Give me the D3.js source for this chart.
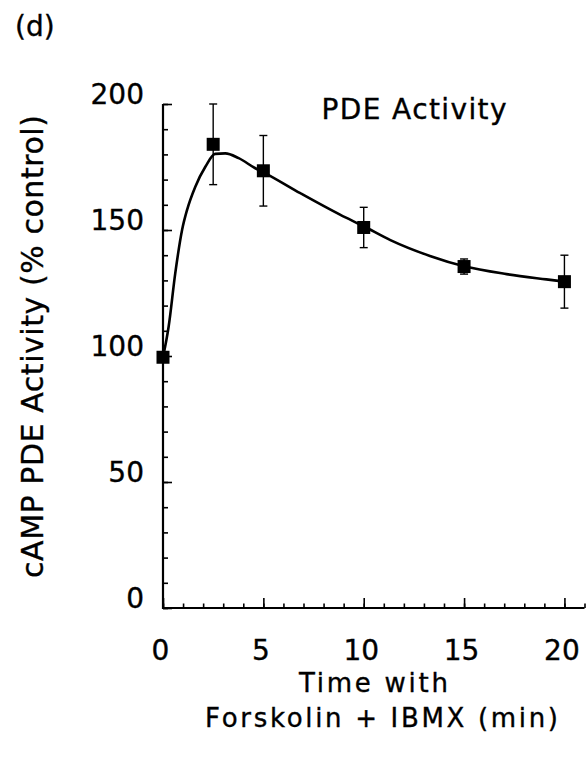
<!DOCTYPE html>
<html>
<head>
<meta charset="utf-8">
<script src="https://cdn.jsdelivr.net/npm/d3@7"></script>
<style>
  body { margin: 0; background: #fff; }
  text { font-family: "DejaVu Sans", sans-serif; fill: #000; stroke: #000; stroke-width: 0.35px; }
</style>
</head>
<body>
<div id="chart"></div>
<script>
// measured points (mean +/- error)
var times = [0, 2.5, 5, 10, 15, 20];
var means = [99.5, 184, 173.5, 151, 135.5, 129.5];
var errs = [0, 16, 14, 8, 3, 10.5];

// fitted curve
var curveX = [0, 0.28, 0.61, 0.95, 1.2, 1.61, 2.11, 2.6, 3.1, 3.77, 4.6, 5.1, 6.84, 8.84, 10, 11.33, 13.3, 15, 17.12, 19.1, 20];
var curveY = [99.5, 111.6, 132.8, 150, 158, 167.2, 175.1, 180.2, 180.4, 178.5, 174.5, 172.5, 164.6, 156, 151.5, 146, 139.7, 135.6, 132.5, 130.4, 129.5];

var xMajor = [0, 5, 10, 15, 20];
var yMajor = [0, 50, 100, 150, 200];

var svg = d3.select("#chart")
  .append("svg")
  .attr("width", 588)
  .attr("height", 759);

var x = d3.scaleLinear().domain([0, 21]).range([163, 584.5]);
var y = d3.scaleLinear().domain([0, 200]).range([608, 104]);

// x axis: minor ticks every minute, major every 5
svg.append("g")
  .attr("transform", "translate(0,608)")
  .call(d3.axisBottom(x).tickValues(d3.range(0, 22)).tickSize(-4.5).tickFormat(""))
  .call(g => g.select(".domain").remove())
  .call(g => g.selectAll("line").attr("stroke-width", 1.6));
svg.append("g")
  .attr("transform", "translate(0,608)")
  .call(d3.axisBottom(x).tickValues(xMajor).tickSize(-10).tickPadding(0).tickFormat(d3.format("d")))
  .call(g => g.select(".domain").attr("d", "M163,0H584.5").attr("stroke-width", 2.2))
  .call(g => g.selectAll("line").attr("stroke-width", 1.6))
  .call(g => g.selectAll("text")
    .attr("y", 52).attr("dy", 0).attr("x", -3)
    .style("font-size", "28px"));

// y axis: minor ticks every 10, major every 50
svg.append("g")
  .attr("transform", "translate(163,0)")
  .call(d3.axisLeft(y).tickValues(d3.range(0, 201, 10)).tickSize(-5).tickFormat(""))
  .call(g => g.select(".domain").remove())
  .call(g => g.selectAll("line").attr("stroke-width", 1.6));
svg.append("g")
  .attr("transform", "translate(163,0)")
  .call(d3.axisLeft(y).tickValues(yMajor).tickSize(-9).tickPadding(19).tickFormat(d3.format("d")))
  .call(g => g.select(".domain").attr("d", "M0,104V609").attr("stroke-width", 2.2))
  .call(g => g.selectAll("line").attr("stroke-width", 1.6))
  .call(g => g.selectAll("text")
    .attr("dy", 0).attr("y", -1)
    .style("font-size", "28px"));

// fitted curve
var line = d3.line()
  .x(d => x(d[0]))
  .y(d => y(d[1]))
  .curve(d3.curveMonotoneX);
svg.append("path")
  .datum(d3.zip(curveX, curveY))
  .attr("fill", "none")
  .attr("stroke", "#000")
  .attr("stroke-width", 2.6)
  .attr("d", line);

// error bars
var pts = d3.zip(times, means, errs).filter(d => d[2] > 0);
var eb = svg.append("g").attr("stroke", "#000").attr("stroke-width", 1.4);
eb.selectAll(".v").data(pts).enter().append("line")
  .attr("x1", d => x(d[0])).attr("x2", d => x(d[0]))
  .attr("y1", d => y(d[1] + d[2])).attr("y2", d => y(d[1] - d[2]));
eb.selectAll(".t").data(pts).enter().append("line")
  .attr("x1", d => x(d[0]) - 4).attr("x2", d => x(d[0]) + 4)
  .attr("y1", d => y(d[1] + d[2])).attr("y2", d => y(d[1] + d[2]));
eb.selectAll(".b").data(pts).enter().append("line")
  .attr("x1", d => x(d[0]) - 4).attr("x2", d => x(d[0]) + 4)
  .attr("y1", d => y(d[1] - d[2])).attr("y2", d => y(d[1] - d[2]));

// square markers
svg.selectAll(".pt")
  .data(d3.zip(times, means))
  .enter().append("rect")
  .attr("x", d => x(d[0]) - 6.5)
  .attr("y", d => y(d[1]) - 6.5)
  .attr("width", 13)
  .attr("height", 13)
  .attr("fill", "#000");

// labels
svg.append("text")
  .attr("x", 15).attr("y", 36)
  .style("font-size", "28px")
  .text("(d)");

svg.append("text")
  .attr("x", 414).attr("y", 119)
  .attr("text-anchor", "middle")
  .attr("textLength", 185).attr("lengthAdjust", "spacing")
  .style("font-size", "28px")
  .text("PDE Activity");

svg.append("text")
  .attr("transform", "translate(43,346.5) rotate(-90)")
  .attr("text-anchor", "middle")
  .attr("textLength", 463).attr("lengthAdjust", "spacing")
  .style("font-size", "30px")
  .text("cAMP PDE Activity (% control)");

svg.append("text")
  .attr("x", 373.5).attr("y", 692)
  .attr("text-anchor", "middle")
  .attr("textLength", 149).attr("lengthAdjust", "spacing")
  .style("font-size", "26px")
  .text("Time with");

svg.append("text")
  .attr("x", 381.5).attr("y", 727)
  .attr("text-anchor", "middle")
  .attr("textLength", 353).attr("lengthAdjust", "spacing")
  .style("font-size", "26px")
  .text("Forskolin + IBMX (min)");
</script>
</body>
</html>
